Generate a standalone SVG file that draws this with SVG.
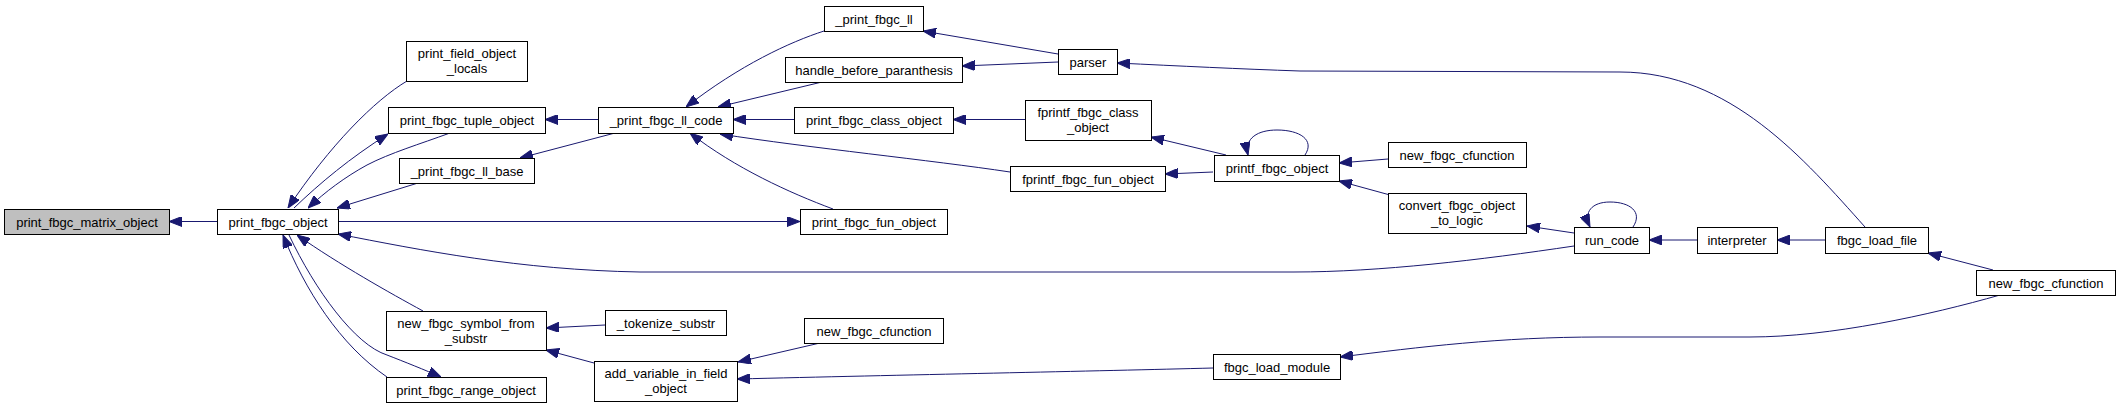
<svg xmlns="http://www.w3.org/2000/svg" width="2120" height="408" viewBox="0 0 2120 408">
<defs>
<marker id="ah" viewBox="0 0 13 10" refX="13" refY="5" markerWidth="13" markerHeight="10" markerUnits="userSpaceOnUse" orient="auto">
<path d="M0,0 L13,5 L0,10 Z" fill="#191970" stroke="#191970" stroke-width="1"/>
</marker>
</defs>
<style>
.n rect{fill:#ffffff;stroke:#000000;stroke-width:1}
.n.h rect{fill:#bfbfbf}
.n text{font-family:"Liberation Sans",Arial,sans-serif;font-size:13px;fill:#000000;text-anchor:middle}
#edges path{fill:none;stroke:#191970;stroke-width:1;marker-end:url(#ah)}
</style>
<rect width="2120" height="408" fill="#ffffff"/>
<g id="edges">
<path d="M217,221.5 L169,221.5"/>
<path d="M407,81 C 375,100 330,145 288,208"/>
<path d="M294,208 C 320,183 350,158 388,134"/>
<path d="M450,133 C 420,144 390,153 367,165 C 345,177 325,192 308,208"/>
<path d="M418,183 L337,208"/>
<path d="M338,221.5 L800,221.5"/>
<path d="M1574,246 C 1480,260 1380,272 1294,272 L 640,272 C 520,270 420,250 338,234"/>
<path d="M423,311 C 390,293 340,265 297,235"/>
<path d="M387,377 C 340,345 305,290 283,235"/>
<path d="M289,235 C 315,290 355,345 387,355 C 405,362 425,370 441,377"/>
<path d="M598,119.5 L545,119.5"/>
<path d="M615,133 L520,158"/>
<path d="M824,31 C 790,42 740,65 686,107"/>
<path d="M822,82 L718,107"/>
<path d="M794,119.5 L733,119.5"/>
<path d="M1010,172 C 930,160 810,148 720,134"/>
<path d="M833,209 C 790,193 735,168 690,133"/>
<path d="M1058,54 L923,31"/>
<path d="M1058,62 L962,66"/>
<path d="M1025,119.5 L953,119.5"/>
<path d="M1865,227 C 1805,160 1730,72 1620,72 L1300,71 C 1240,69 1180,66 1117,63"/>
<path d="M1226,155 L1151,137"/>
<path d="M1213,172 L1165,174"/>
<path d="M1305,155 C 1315,140 1300,130 1277,130 C 1258,130 1244,138 1248,155"/>
<path d="M1388,159 L1339,163"/>
<path d="M1390,195 L1339,181"/>
<path d="M1574,233 L1527,226"/>
<path d="M1633,227 C 1643,212 1630,202 1610,202 C 1592,202 1583,212 1590,227"/>
<path d="M1697,240 L1649,240"/>
<path d="M1825,240 L1777,240"/>
<path d="M1993,270 L1928,253"/>
<path d="M2000,295 C 1930,315 1830,337 1750,337 L1600,337 C 1500,337 1420,347 1340,357"/>
<path d="M1213,368 C 1100,371 900,375 737,379"/>
<path d="M820,343 L738,362"/>
<path d="M594,363 L546,350"/>
<path d="M605,325 L546,328"/>
</g>
<g id="n_matrix" class="n h"><rect x="4.5" y="209.5" width="165" height="25"/><text x="87" y="226.5">print_fbgc_matrix_object</text></g>
<g id="n_obj" class="n"><rect x="217.5" y="209.5" width="121" height="25"/><text x="278" y="226.5">print_fbgc_object</text></g>
<g id="n_field" class="n"><rect x="406.5" y="41.5" width="121" height="40"/><text x="467" y="57.5">print_field_object</text><text x="467" y="72.5">_locals</text></g>
<g id="n_tuple" class="n"><rect x="388.5" y="107.5" width="157" height="26"/><text x="467" y="124.5">print_fbgc_tuple_object</text></g>
<g id="n_llbase" class="n"><rect x="399.5" y="158.5" width="135" height="25"/><text x="467" y="175.5">_print_fbgc_ll_base</text></g>
<g id="n_symbol" class="n"><rect x="386.5" y="311.5" width="160" height="39"/><text x="466" y="327.5">new_fbgc_symbol_from</text><text x="466" y="342.5">_substr</text></g>
<g id="n_range" class="n"><rect x="386.5" y="377.5" width="160" height="25"/><text x="466" y="394.5">print_fbgc_range_object</text></g>
<g id="n_ll" class="n"><rect x="824.5" y="6.5" width="99" height="25"/><text x="874" y="23.5">_print_fbgc_ll</text></g>
<g id="n_handle" class="n"><rect x="785.5" y="57.5" width="177" height="25"/><text x="874" y="74.5">handle_before_paranthesis</text></g>
<g id="n_llcode" class="n"><rect x="598.5" y="107.5" width="135" height="26"/><text x="666" y="124.5">_print_fbgc_ll_code</text></g>
<g id="n_class" class="n"><rect x="794.5" y="107.5" width="159" height="26"/><text x="874" y="124.5">print_fbgc_class_object</text></g>
<g id="n_fun" class="n"><rect x="800.5" y="209.5" width="147" height="25"/><text x="874" y="226.5">print_fbgc_fun_object</text></g>
<g id="n_parser" class="n"><rect x="1058.5" y="49.5" width="59" height="25"/><text x="1088" y="66.5">parser</text></g>
<g id="n_fprintf_class" class="n"><rect x="1025.5" y="100.5" width="126" height="40"/><text x="1088" y="116.5">fprintf_fbgc_class</text><text x="1088" y="131.5">_object</text></g>
<g id="n_fprintf_fun" class="n"><rect x="1010.5" y="166.5" width="155" height="25"/><text x="1088" y="183.5">fprintf_fbgc_fun_object</text></g>
<g id="n_tokenize" class="n"><rect x="605.5" y="310.5" width="121" height="25"/><text x="666" y="327.5">_tokenize_substr</text></g>
<g id="n_cfunc_mid" class="n"><rect x="804.5" y="318.5" width="139" height="25"/><text x="874" y="335.5">new_fbgc_cfunction</text></g>
<g id="n_addvar" class="n"><rect x="594.5" y="361.5" width="143" height="40"/><text x="666" y="377.5">add_variable_in_field</text><text x="666" y="392.5">_object</text></g>
<g id="n_printf" class="n"><rect x="1214.5" y="155.5" width="125" height="26"/><text x="1277" y="172.5">printf_fbgc_object</text></g>
<g id="n_cfunc_up" class="n"><rect x="1388.5" y="142.5" width="138" height="25"/><text x="1457" y="159.5">new_fbgc_cfunction</text></g>
<g id="n_convert" class="n"><rect x="1388.5" y="193.5" width="138" height="40"/><text x="1457" y="209.5">convert_fbgc_object</text><text x="1457" y="224.5">_to_logic</text></g>
<g id="n_runcode" class="n"><rect x="1574.5" y="227.5" width="75" height="26"/><text x="1612" y="244.5">run_code</text></g>
<g id="n_loadmod" class="n"><rect x="1213.5" y="354.5" width="127" height="25"/><text x="1277" y="371.5">fbgc_load_module</text></g>
<g id="n_interp" class="n"><rect x="1697.5" y="227.5" width="80" height="26"/><text x="1737" y="244.5">interpreter</text></g>
<g id="n_loadfile" class="n"><rect x="1825.5" y="227.5" width="103" height="26"/><text x="1877" y="244.5">fbgc_load_file</text></g>
<g id="n_cfunc_right" class="n"><rect x="1976.5" y="270.5" width="139" height="25"/><text x="2046" y="287.5">new_fbgc_cfunction</text></g>
</svg>
